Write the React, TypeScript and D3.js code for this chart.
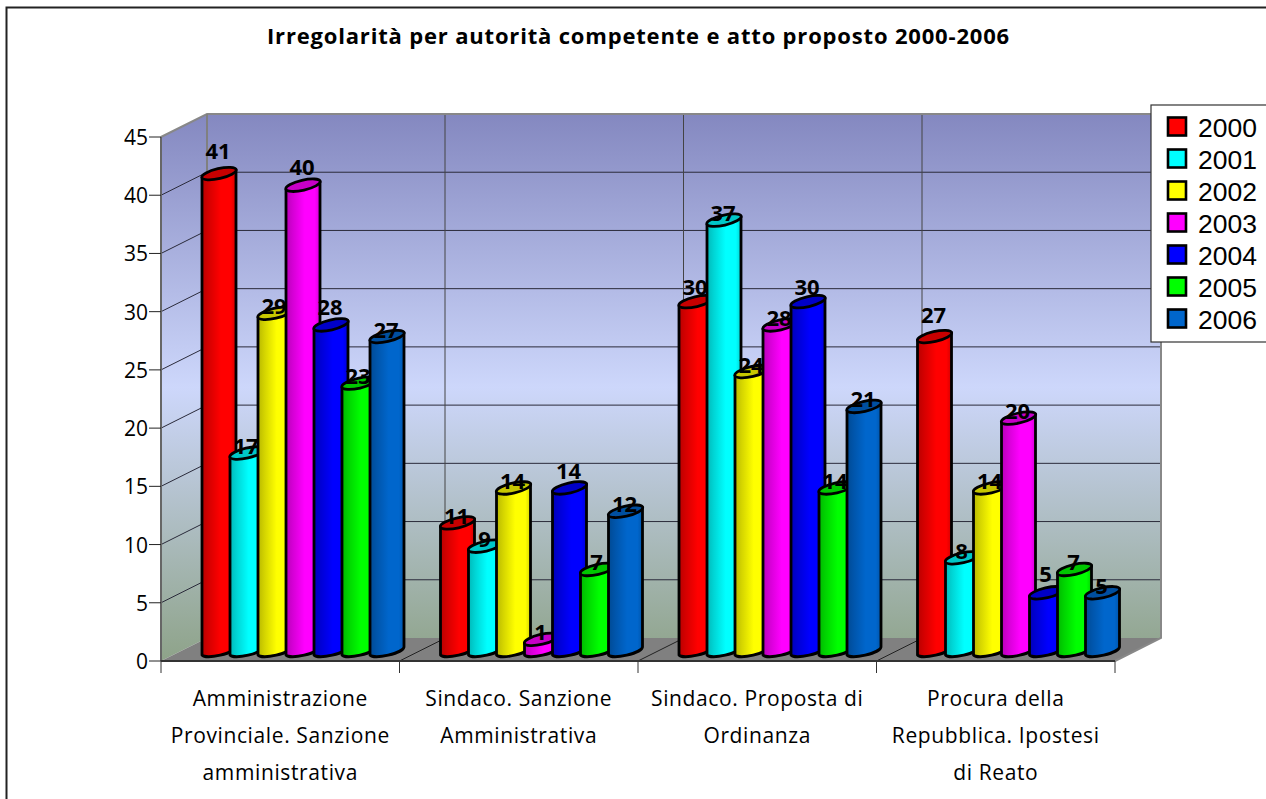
import React from "react";
import * as d3 from "d3";

const title = "Irregolarità per autorità competente e atto proposto 2000-2006";
const categories = [
  ["Amministrazione", "Provinciale. Sanzione", "amministrativa"],
  ["Sindaco. Sanzione", "Amministrativa"],
  ["Sindaco. Proposta di", "Ordinanza"],
  ["Procura della", "Repubblica. Ipostesi", "di Reato"],
];
const years = ["2000", "2001", "2002", "2003", "2004", "2005", "2006"];
const v2000 = [41, 11, 30, 27];
const v2001 = [17, 9, 37, 8];
const v2002 = [29, 14, 24, 14];
const v2003 = [40, 1, 28, 20];
const v2004 = [28, 14, 30, 5];
const v2005 = [23, 7, 14, 7];
const v2006 = [27, 12, 21, 5];
const series = [v2000, v2001, v2002, v2003, v2004, v2005, v2006];
const colors = ["#ff0000", "#00ffff", "#ffff00", "#ff00ff", "#0000ff", "#00ff00", "#0066cc"];

const FONT = "'Open Sans', sans-serif";
const LEGEND_FONT = "'Liberation Sans', sans-serif";
const W = 1266, H = 799;
const plotL = 161, plotR = 1115, y0 = 661, y45 = 137;
const dx = 46, dy = -23;
const barW = 34, barStep = 28, barInset = 41, baseRaise = 10, tilt = 4;

// how far the original chart lifts some value labels clear of the cylinder top: "category-series"
const labelLift = new Map([
  ["0-0", 16], ["0-3", 11], ["0-4", 11], ["1-4", 10],
  ["2-0", 8], ["2-4", 8], ["3-0", 15], ["3-4", 12],
]);

const y = d3.scaleLinear().domain([0, 45]).range([y0, y45]);
const x = d3.scaleBand<number>().domain(d3.range(categories.length)).range([plotL, plotR]).padding(0);
const yTicks = d3.range(0, 50, 5);

function cylinderBody(xl: number, top: number, bottom: number) {
  const xr = xl + barW;
  const rx = barW / 2 + 0.6, ry = 5;
  return `M${xl},${top + tilt}L${xl},${bottom + tilt}A${rx},${ry} -13 0 0 ${xr},${bottom - tilt}L${xr},${top - tilt}Z`;
}

export default function App() {
  const baseY = y(0) - baseRaise;
  const edges = [...x.domain().map((d) => x(d) as number), plotR];
  return (
    <svg width={W} height={H} viewBox={`0 0 ${W} ${H}`} style={{ position: "absolute", left: 0, top: 0, display: "block", background: "#fff" }}>
      <defs>
        <linearGradient id="wall" gradientUnits="userSpaceOnUse" x1="0" x2="0" y1={y45 + dy} y2={y0}>
          <stop offset="0" stopColor="#8488c0" />
          <stop offset="0.5" stopColor="#cdd7fb" />
          <stop offset="1" stopColor="#8ea389" />
        </linearGradient>
        {colors.map((c, i) => {
          const col = d3.color(c)!;
          return (
            <linearGradient key={i} id={`cyl${i}`} x1="0" x2="1" y1="0" y2="0">
              <stop offset="0" stopColor={col.darker(0.9).formatHex()} />
              <stop offset="0.2" stopColor={col.darker(0.5).formatHex()} />
              <stop offset="0.55" stopColor={c} />
              <stop offset="0.85" stopColor={c} />
              <stop offset="1" stopColor={col.darker(0.5).formatHex()} />
            </linearGradient>
          );
        })}
      </defs>

      {/* chart frame */}
      <path d={`M6.5,${H}V7.5H${W}`} fill="none" stroke="#222" strokeWidth={2} />

      <text x={638.5} y={44} textAnchor="middle" fontFamily={FONT} fontWeight={700} fontSize={22} letterSpacing={0.82} fill="#000">
        {title}
      </text>

      {/* walls and floor */}
      <rect x={plotL + dx} y={y45 + dy} width={plotR - plotL} height={y0 - y45} fill="url(#wall)" />
      <polygon points={`${plotL},${y45} ${plotL + dx},${y45 + dy} ${plotL + dx},${y0 + dy} ${plotL},${y0}`} fill="url(#wall)" />
      <polygon points={`${plotL},${y0} ${plotL + dx},${y0 + dy} ${plotR + dx},${y0 + dy} ${plotR},${y0}`} fill="#808080" />

      {/* gridlines */}
      {yTicks.filter((t) => t > 0 && t < 45).map((t) => (
        <g key={t} stroke="#2a2a3a" strokeWidth={1}>
          <line x1={plotL} y1={y(t)} x2={plotL + dx} y2={y(t) + dy} />
          <line x1={plotL + dx} y1={y(t) + dy} x2={plotR + dx} y2={y(t) + dy} />
        </g>
      ))}
      {edges.slice(1, -1).map((e) => (
        <g key={e}>
          <line x1={e + dx - 0.5} y1={y45 + dy} x2={e + dx - 0.5} y2={y0 + dy} stroke="#444" strokeWidth={1} />
          <line x1={e} y1={y0} x2={e + dx} y2={y0 + dy} stroke="#222" strokeWidth={1} />
        </g>
      ))}

      {/* wall edges */}
      <path d={`M${plotL},${y45}L${plotL + dx},${y45 + dy}H${plotR + dx}V${y0 + dy}L${plotR},${y0}`} fill="none" stroke="#888" strokeWidth={2} />
      <line x1={plotL + dx} y1={y45 + dy} x2={plotL + dx} y2={y0 + dy} stroke="#808080" strokeWidth={2} />
      <line x1={plotL} y1={y45} x2={plotL} y2={y0} stroke="#666" strokeWidth={2} />
      <line x1={plotL} y1={y0} x2={plotR} y2={y0} stroke="#333" strokeWidth={2} />

      {/* axes */}
      {yTicks.map((t) => (
        <g key={t}>
          <line x1={plotL - 12} x2={plotL} y1={y(t)} y2={y(t)} stroke="#222" strokeWidth={1} />
          <text x={148} y={y(t) + 8} textAnchor="end" fontFamily={FONT} fontSize={21} fill="#000">{t}</text>
        </g>
      ))}
      {edges.map((e) => (
        <line key={e} x1={e} x2={e} y1={y0} y2={y0 + 12} stroke="#333" strokeWidth={1} />
      ))}
      {categories.map((lines, i) => (
        <text key={i} textAnchor="middle" fontFamily={FONT} fontSize={21} letterSpacing={0.62} fill="#000">
          {lines.map((l, j) => (
            <tspan key={j} x={(x(i) as number) + x.bandwidth() / 2} y={706 + j * 37}>{l}</tspan>
          ))}
        </text>
      ))}

      {/* cylinders */}
      {categories.map((_, c) => (
        <g key={c}>
          {series.map((vals, s) => {
            const xl = (x(c) as number) + barInset + s * barStep;
            const top = y(vals[c]) - baseRaise;
            return (
              <g key={s} stroke="#000" strokeWidth={2.8} strokeLinejoin="round">
                <path d={cylinderBody(xl, top, baseY)} fill={`url(#cyl${s})`} />
                <ellipse
                  cx={xl + barW / 2}
                  cy={top}
                  rx={barW / 2 + 0.6}
                  ry={5}
                  transform={`rotate(-13 ${xl + barW / 2} ${top})`}
                  fill={d3.color(colors[s])!.darker(0.7).formatHex()}
                />
              </g>
            );
          })}
        </g>
      ))}

      {/* value labels */}
      {categories.map((_, c) =>
        series.map((vals, s) => {
          const cx = (x(c) as number) + barInset + s * barStep + barW / 2;
          const lift = labelLift.get(`${c}-${s}`) ?? 0;
          return (
            <text key={`${c}-${s}`} x={cx - 1} y={y(vals[c]) - baseRaise + 1 - lift} textAnchor="middle" fontFamily={FONT} fontWeight={700} fontSize={22} fill="#000">
              {vals[c]}
            </text>
          );
        })
      )}

      {/* legend */}
      <rect x={1151} y={105} width={W - 1151 + 4} height={237} fill="#fff" stroke="#333" strokeWidth={1.2} />
      {years.map((yr, i) => (
        <g key={yr}>
          <rect x={1168} y={117.5 + i * 32} width={18} height={18} fill={colors[i]} stroke="#000" strokeWidth={2.6} />
          <text x={1198} y={137 + i * 32} fontFamily={LEGEND_FONT} fontSize={26.5} fill="#000">{yr}</text>
        </g>
      ))}
    </svg>
  );
}
